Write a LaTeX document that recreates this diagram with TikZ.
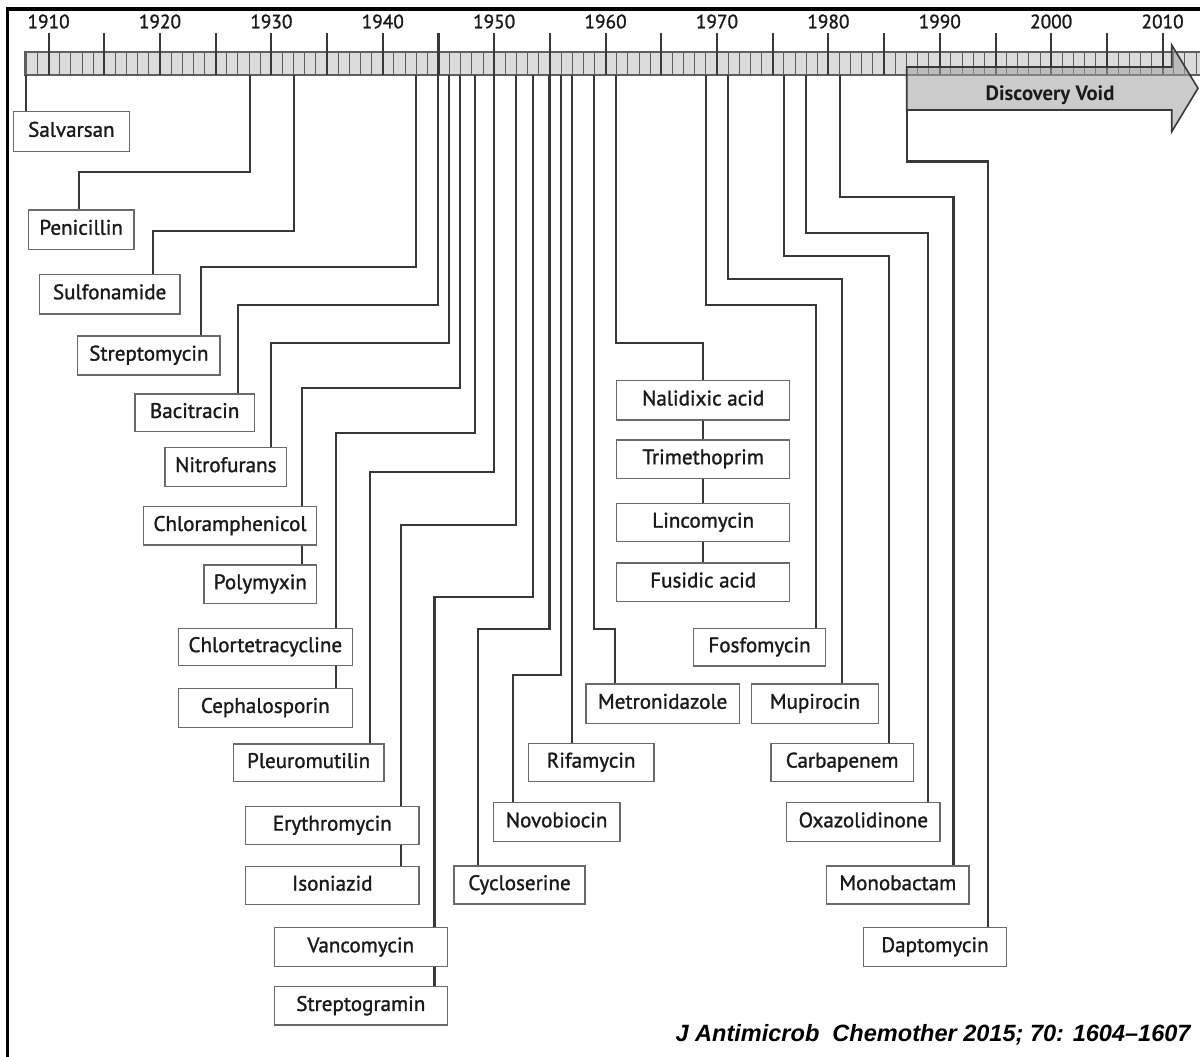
\documentclass[tikz,border=0pt]{standalone}
\usepackage{fontspec}
\setmainfont{PT Sans}
\newfontfamily\lblfont{PT Sans}[FakeBold=1.3]
\newfontfamily\citefont{Liberation Sans}
\definecolor{linec}{HTML}{383838}
\definecolor{boxc}{HTML}{6A6A6A}
\definecolor{txtc}{HTML}{1A1A1A}
\definecolor{barfill}{HTML}{DCDCDC}
\definecolor{tickc}{HTML}{5E5E5E}
\definecolor{arrowfill}{HTML}{A0A0A0}
\newcommand\mybox[6]{\node[lbl, minimum width={(#3-#2)*0.02cm}, minimum height={(#5-#4)*0.02cm}] (#1) at ({(#2+#3)/2},{(#4+#5)/2}) {#6};}
\newcommand\mylink[4]{\coordinate (t#1) at (#2,75); \coordinate (d#1) at (#4,#3); \draw[conn] (t#1) |- (d#1) -- (d#1 |- #1.north);}
\begin{document}
\begin{tikzpicture}[x=0.02cm,y=-0.02cm,
  conn/.style={draw=linec, line width=1.2pt},
  lbl/.style={draw=boxc, line width=0.8pt, fill=white, inner sep=0pt, text=txtc,
    font=\lblfont\fontsize{12}{14}\selectfont, text height=0.7em, text depth=0.12em},
  yearlbl/.style={anchor=base, inner sep=0pt, text=txtc, font=\lblfont\fontsize{11}{12}\selectfont},
  minortick/.style={draw=tickc, line width=0.55pt},
  majortick/.style={draw=linec, line width=1.15pt},
  barstyle/.style={fill=barfill, draw=tickc, line width=0.6pt},
  voidarrow/.style={fill=arrowfill, fill opacity=0.55, draw=linec, line width=0.9pt},
  frame/.style={draw=black, line width=1.9pt}]
\useasboundingbox (0,0) rectangle (1200,1057);
\clip (0,0) rectangle (1200,1057);
% timeline bar
\draw[barstyle] (25,52) rectangle (1215,75);
\foreach \yr in {1908,...,2013} \draw[minortick] ({48.6+(\yr-1910)*11.14},52) -- ({48.6+(\yr-1910)*11.14},75);
\foreach \yr in {1910,1915,...,2010} \draw[majortick] ({48.6+(\yr-1910)*11.14},33) -- ({48.6+(\yr-1910)*11.14},75);
\foreach \yr in {1910,1920,...,2010} \node[yearlbl] at ({48.6+(\yr-1910)*11.14},28.3) {\yr};
% discovery void arrow
\draw[voidarrow] (906.7,67) -- (1171.7,67) -- (1171.7,45) -- (1198,88.3) -- (1171.7,131.7) -- (1171.7,110) -- (906.7,110) -- cycle;
\node[anchor=base, inner sep=0pt, text=txtc, font=\bfseries\fontsize{11.8}{13}\selectfont] (void) at (1050,100.5) {Discovery Void};
% boxes
\mybox{salv}{13.4}{129.4}{111.7}{151.7}{Salvarsan}
\mybox{pen}{28.3}{134}{210}{249.3}{Penicillin}
\mybox{sulf}{39.3}{180}{274.3}{314}{Sulfonamide}
\mybox{strep}{77.7}{220}{336}{375}{Streptomycin}
\mybox{baci}{135}{254.3}{394}{431.7}{Bacitracin}
\mybox{nitro}{165}{286.7}{447.3}{486.7}{Nitrofurans}
\mybox{chlora}{143.3}{316.7}{506.7}{545}{Chloramphenicol}
\mybox{poly}{204}{316.7}{565}{603.3}{Polymyxin}
\mybox{chlort}{178.3}{352.3}{628.3}{665.7}{Chlortetracycline}
\mybox{ceph}{178.3}{352.3}{688.3}{727.3}{Cephalosporin}
\mybox{pleuro}{233.3}{384}{744}{781.7}{Pleuromutilin}
\mybox{ery}{245.7}{419}{806.7}{844.3}{Erythromycin}
\mybox{iso}{245.7}{419}{866.7}{904.3}{Isoniazid}
\mybox{vanco}{274.3}{447.3}{927.7}{966.7}{Vancomycin}
\mybox{strepg}{274.3}{447.3}{986.7}{1025}{Streptogramin}
\mybox{cyclo}{454}{585}{866}{904}{Cycloserine}
\mybox{novo}{493.3}{620}{802.7}{841.7}{Novobiocin}
\mybox{rifa}{528.3}{654}{743.3}{781.7}{Rifamycin}
\mybox{metro}{586}{739.3}{684}{723.3}{Metronidazole}
\mybox{nali}{616.7}{789.7}{380.7}{420}{Nalidixic acid}
\mybox{trim}{616.7}{789.7}{440}{478.3}{Trimethoprim}
\mybox{linco}{616.7}{789.7}{503.3}{541.7}{Lincomycin}
\mybox{fusi}{616.7}{789.7}{563}{601.7}{Fusidic acid}
\mybox{fosfo}{693.3}{825.7}{628.3}{666}{Fosfomycin}
\mybox{mupi}{751.7}{878.3}{684}{723.3}{Mupirocin}
\mybox{carba}{771}{913.3}{743.3}{781.7}{Carbapenem}
\mybox{oxa}{786.7}{940}{802.7}{841.7}{Oxazolidinone}
\mybox{mono}{826.7}{969}{866}{904}{Monobactam}
\mybox{dapto}{863.3}{1006.7}{927.3}{966.7}{Daptomycin}
% connectors
\coordinate (tsalv) at (26,75);
\draw[conn] (tsalv) -- (tsalv |- salv.north);
\mylink{pen}{249.7}{171.7}{79}
\mylink{sulf}{293.7}{230.7}{152.7}
\mylink{strep}{415.7}{266.7}{201}
\mylink{baci}{438.3}{305}{237.7}
\mylink{nitro}{449.3}{342.7}{271}
\mylink{chlora}{460.3}{388}{301.7}
\draw[conn] (chlora.south -| dchlora) -- (poly.north -| dchlora);
\mylink{chlort}{475.3}{433}{336.3}
\draw[conn] (chlort.south -| dchlort) -- (ceph.north -| dchlort);
\mylink{pleuro}{493.7}{471.7}{370}
\mylink{ery}{516}{525}{400.7}
\draw[conn] (ery.south -| dery) -- (iso.north -| dery);
\mylink{vanco}{533.3}{597.2}{434.5}
\draw[conn] (vanco.south -| dvanco) -- (strepg.north -| dvanco);
\mylink{cyclo}{549.5}{628.7}{477.7}
\mylink{novo}{561}{675}{512.7}
\coordinate (trifa) at (572,75);
\draw[conn] (trifa) -- (trifa |- rifa.north);
\mylink{metro}{594.3}{628.7}{614.7}
\mylink{nali}{616.3}{343.3}{703}
\draw[conn] (nali.south -| dnali) -- (trim.north -| dnali);
\draw[conn] (trim.south -| dnali) -- (linco.north -| dnali);
\draw[conn] (linco.south -| dnali) -- (fusi.north -| dnali);
\mylink{fosfo}{705.7}{305}{815.7}
\mylink{mupi}{728.3}{279}{842.3}
\mylink{carba}{784}{255.7}{889.3}
\mylink{oxa}{805.7}{233.3}{928}
\mylink{mono}{840}{196.7}{953.5}
\coordinate (tdapto) at (906.7,110);
\coordinate (ddapto) at (988,161.5);
\draw[conn] (tdapto) |- (ddapto) -- (ddapto |- dapto.north);
% citation
\node[anchor=east, inner sep=0pt, text=black, font=\citefont\bfseries\itshape\fontsize{13.4}{15}\selectfont] (cite) at (1191,1035) {J Antimicrob\ \ Chemother 2015; 70: 1604–1607};
% frame
\draw[frame] (7.5,1060) -- (7.5,9) -- (1205,9);
\end{tikzpicture}
\end{document}
